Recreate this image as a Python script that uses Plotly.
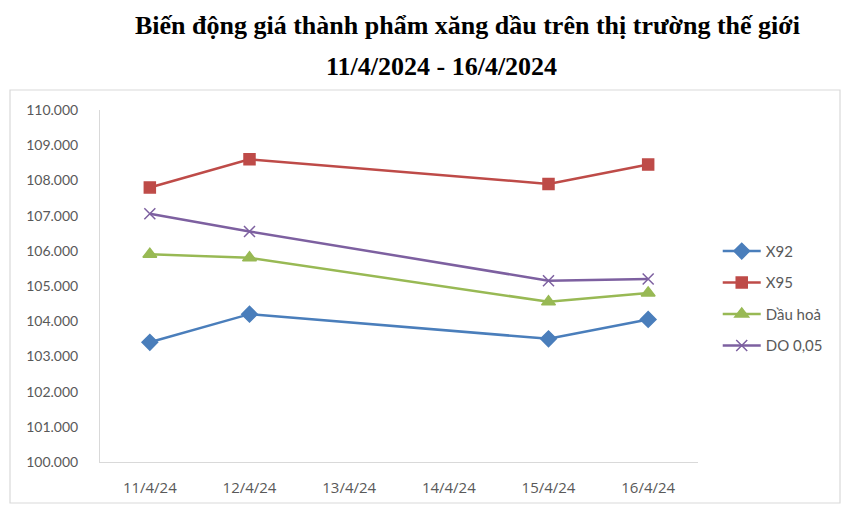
import plotly.graph_objects as go

dates = ["11/4/24", "12/4/24", "13/4/24", "14/4/24", "15/4/24", "16/4/24"]
x92 = [103400, 104200, None, None, 103500, 104050]
x95 = [107800, 108600, None, None, 107900, 108450]
dau_hoa = [105900, 105800, None, None, 104550, 104800]
do_005 = [107050, 106550, None, None, 105150, 105200]

y_ticks = list(range(100000, 110001, 1000))
y_labels = [f"{v:,}".replace(",", ".") for v in y_ticks]

series = [
    ("X92", x92, "#4A7EBB", "diamond", 12),
    ("X95", x95, "#BE4B48", "square", 11),
    ("Dầu hoả", dau_hoa, "#98B954", "triangle-up", 12),
    ("DO 0,05", do_005, "#7D60A0", "x-thin", 11),
]

fig = go.Figure()
for i, (name, vals, color, sym, size) in enumerate(series):
    fig.add_trace(go.Scatter(
        x=dates, y=vals, name=name, mode="lines+markers", connectgaps=True,
        line=dict(color=color, width=2.5),
        marker=dict(symbol=sym, size=size, color=color,
                    line=dict(color=color, width=1.5)),
        legendgroup=f"g{i}",
    ))

tick_font = dict(family="Lato, Open Sans, sans-serif", size=14, color="#595959")
xtick_font = dict(family="Open Sans, sans-serif", size=15, color="#595959")
legend_font = dict(family="Lato, Open Sans, sans-serif", size=15, color="#595959")
title_font = dict(family="Liberation Serif, Times New Roman, serif",
                  size=26, color="#000000")

# the page body adds 8px of offset, so margins are shifted by that amount
fig.update_layout(
    width=850, height=512,
    margin=dict(l=92, r=160, t=102, b=58),
    paper_bgcolor="white", plot_bgcolor="white",
    showlegend=True,
    legend=dict(x=1.033, y=0.465, xanchor="left", yanchor="middle",
                font=legend_font, tracegroupgap=9, traceorder="grouped",
                itemwidth=38, bgcolor="rgba(0,0,0,0)"),
    xaxis=dict(type="category", categoryorder="array", categoryarray=dates,
               range=[-0.5, 5.5], showgrid=False, showline=True,
               linecolor="#D9D9D9", linewidth=1, ticks="",
               tickfont=xtick_font, ticklabelstandoff=12),
    yaxis=dict(range=[100000, 110000], tickvals=y_ticks, ticktext=y_labels,
               showgrid=False, showline=True, linecolor="#D9D9D9",
               linewidth=1, ticks="", tickfont=tick_font,
               ticklabelstandoff=18, zeroline=False),
    annotations=[
        dict(text="<b>Biến động giá thành phẩm xăng dầu trên thị trường thế giới</b>",
             xref="paper", yref="paper", x=(467 - 100) / 598, y=(462 - 25) / 352,
             xanchor="center", yanchor="middle", showarrow=False,
             font=title_font),
        dict(text="<b>11/4/2024 - 16/4/2024</b>",
             xref="paper", yref="paper", x=(441 - 100) / 598, y=(462 - 66) / 352,
             xanchor="center", yanchor="middle", showarrow=False,
             font=title_font),
    ],
    shapes=[
        dict(type="rect", xref="paper", yref="paper",
             x0=(10 - 100) / 598, x1=(840 - 100) / 598,
             y0=(462 - 503) / 352, y1=(462 - 90) / 352,
             line=dict(color="#D9D9D9", width=1.2)),
    ],
)

fig.write_html("out.html")
